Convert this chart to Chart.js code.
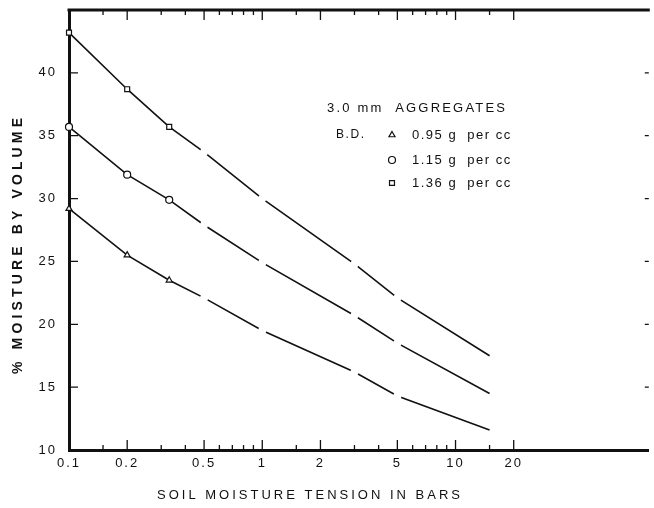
<!DOCTYPE html>
<html>
<head>
<meta charset="utf-8">
<script src="https://cdn.jsdelivr.net/npm/chart.js@4.4.1/dist/chart.umd.min.js"></script>
<style>
  html, body { margin: 0; padding: 0; background: #fff; }
  #wrap { width: 654px; height: 508px; position: relative; }
</style>
</head>
<body>
<div id="wrap"><canvas id="chart"></canvas></div>
<script>
"use strict";

// soil moisture tension (bars) where the curves were measured
var tension = [0.1, 0.2, 0.33, 0.5, 1, 3, 5, 15];
// % moisture by volume, one list per bulk density
var bd095 = [29.2, 25.5, 23.5, 22.1, 19.5, 16.2, 14.3, 11.6];
var bd115 = [35.7, 31.9, 29.9, 27.9, 24.9, 20.7, 18.5, 14.5];
var bd136 = [43.2, 38.7, 35.7, 33.7, 30.0, 24.8, 22.1, 17.5];
// which points carry a visible marker (the rest are just breaks in the line)
var markerShown = [true, true, true, false, false, false, false, false];

var xTickValues = [0.1, 0.2, 0.5, 1, 2, 5, 10, 20];
var xTickLabels = ["0.1", "0.2", "0.5", "1", "2", "5", "10", "20"];
var xMinorValues = [0.15, 0.3, 0.4, 0.6, 0.7, 0.8, 0.9, 1.5, 3, 4, 6, 7, 8, 9, 15];
var yTickValues = [10, 15, 20, 25, 30, 35, 40];

var legendTitle = "3.0 mm  AGGREGATES";
var legendPrefix = "B.D.";
var legendLabels = ["0.95 g  per cc", "1.15 g  per cc", "1.36 g  per cc"];
var legendStyles = ["triangle", "circle", "rect"];
var xTitle = "SOIL MOISTURE TENSION IN BARS";
var yTitle = "% MOISTURE BY VOLUME";

var FONT = "'Liberation Sans', Arial, sans-serif";
var INK = "#111";

function makeSet(label, values, style) {
    var last = values.length - 1;
    return {
        label: label,
        data: tension.map(function (t, i) { return { x: t, y: values[i] }; }),
        borderColor: INK,
        borderWidth: 1.6,
        tension: 0,
        pointStyle: markerShown.map(function (s) { return s ? style : "circle"; }),
        pointRadius: markerShown.map(function (s, i) { return i === last ? 0 : (s ? 3.5 : 4); }),
        pointBorderWidth: markerShown.map(function (s) { return s ? 1.2 : 0; }),
        pointBorderColor: markerShown.map(function (s) { return s ? INK : "#fff"; }),
        pointBackgroundColor: "#fff",
        clip: false
    };
}

// fit text to a given width by spreading the letters
function spacedText(ctx, text, x, y, width) {
    ctx.letterSpacing = "0px";
    var w = ctx.measureText(text).width;
    var gap = (width - w) / (text.length - 1);
    ctx.letterSpacing = gap + "px";
    ctx.fillText(text, x, y);
    ctx.letterSpacing = "0px";
}

var paperPlugin = {
    id: "paper",
    beforeDraw: function (chart) {
        chart.ctx.letterSpacing = "2px";
    },
    beforeDatasetsDraw: function (chart) {
        var ctx = chart.ctx;
        var a = chart.chartArea;
        var xs = chart.scales.x;
        var ys = chart.scales.y;
        ctx.save();
        ctx.strokeStyle = INK;

        // heavy top edge of the graph paper
        ctx.lineWidth = 3;
        ctx.beginPath();
        ctx.moveTo(a.left - 1.5, a.top);
        ctx.lineTo(a.right + 1, a.top);
        ctx.stroke();

        ctx.lineWidth = 1.3;
        ctx.beginPath();
        xTickValues.slice(1).forEach(function (v) {
            var px = xs.getPixelForValue(v);
            ctx.moveTo(px, a.bottom); ctx.lineTo(px, a.bottom - 10);
            ctx.moveTo(px, a.top); ctx.lineTo(px, a.top + 10);
        });
        xMinorValues.forEach(function (v) {
            var px = xs.getPixelForValue(v);
            ctx.moveTo(px, a.bottom); ctx.lineTo(px, a.bottom - 5);
            ctx.moveTo(px, a.top); ctx.lineTo(px, a.top + 5);
        });
        yTickValues.slice(1).forEach(function (v) {
            var py = ys.getPixelForValue(v);
            ctx.moveTo(a.left, py); ctx.lineTo(a.left + 9, py);
            ctx.moveTo(a.right, py); ctx.lineTo(a.right - 4, py);
        });
        ctx.stroke();
        ctx.restore();
    },
    afterDraw: function (chart) {
        var ctx = chart.ctx;
        ctx.save();
        ctx.fillStyle = INK;
        ctx.strokeStyle = INK;
        ctx.textBaseline = "middle";
        ctx.textAlign = "left";

        // axis titles
        ctx.font = "13px " + FONT;
        spacedText(ctx, xTitle, 157, 495, 303);

        ctx.save();
        ctx.translate(18, 246);
        ctx.rotate(-Math.PI / 2);
        ctx.font = "600 14px " + FONT;
        spacedText(ctx, yTitle, -128, 0, 256);
        ctx.restore();

        // key
        ctx.font = "13px " + FONT;
        spacedText(ctx, legendTitle, 327, 108, 178);
        ctx.font = "12px " + FONT;
        spacedText(ctx, legendPrefix, 336, 135, 28);
        var rows = [135, 160, 183];
        legendLabels.forEach(function (txt, i) {
            ctx.fillStyle = INK;
            ctx.font = "13px " + FONT;
            ctx.letterSpacing = "1.5px";
            ctx.fillText(txt, 412, rows[i]);
            ctx.letterSpacing = "0px";
            ctx.lineWidth = 1.2;
            ctx.fillStyle = "#fff";
            Chart.helpers.drawPoint(ctx, {
                pointStyle: legendStyles[i], radius: 3.5, borderWidth: 1.2
            }, 392, rows[i]);
        });
        ctx.restore();
    }
};

var config = {
    type: "line",
    data: {
        datasets: [
            makeSet("0.95 g per cc", bd095, "triangle"),
            makeSet("1.15 g per cc", bd115, "circle"),
            makeSet("1.36 g per cc", bd136, "rect")
        ]
    },
    plugins: [paperPlugin],
    options: {
        responsive: false,
        animation: false,
        events: [],
        layout: { padding: { top: 10, right: -3, left: 0, bottom: 0 } },
        plugins: { legend: { display: false }, tooltip: { enabled: false } },
        scales: {
            x: {
                type: "logarithmic",
                min: 0.1,
                max: 100,
                afterBuildTicks: function (scale) {
                    scale.ticks = xTickValues.map(function (v) { return { value: v }; });
                },
                afterFit: function (scale) {
                    scale.height = 58;
                    scale.paddingLeft = 0;
                    scale.paddingRight = 0;
                },
                ticks: {
                    autoSkip: false,
                    maxRotation: 0,
                    padding: 6,
                    color: INK,
                    font: { family: FONT, size: 13 },
                    callback: function (v, i) { return xTickLabels[i]; }
                },
                grid: { drawOnChartArea: false, drawTicks: false },
                border: { color: INK, width: 3 }
            },
            y: {
                type: "linear",
                min: 10,
                max: 45,
                afterBuildTicks: function (scale) {
                    scale.ticks = yTickValues.map(function (v) { return { value: v }; });
                },
                afterFit: function (scale) {
                    scale.width = 69;
                    scale.paddingTop = 0;
                    scale.paddingBottom = 0;
                },
                ticks: {
                    padding: 12,
                    color: INK,
                    font: { family: FONT, size: 13 }
                },
                grid: { drawOnChartArea: false, drawTicks: false },
                border: { color: INK, width: 3 }
            }
        }
    }
};

var canvas = document.getElementById("chart");
canvas.width = 654;
canvas.height = 508;
new Chart(canvas, config);
</script>
</body>
</html>
